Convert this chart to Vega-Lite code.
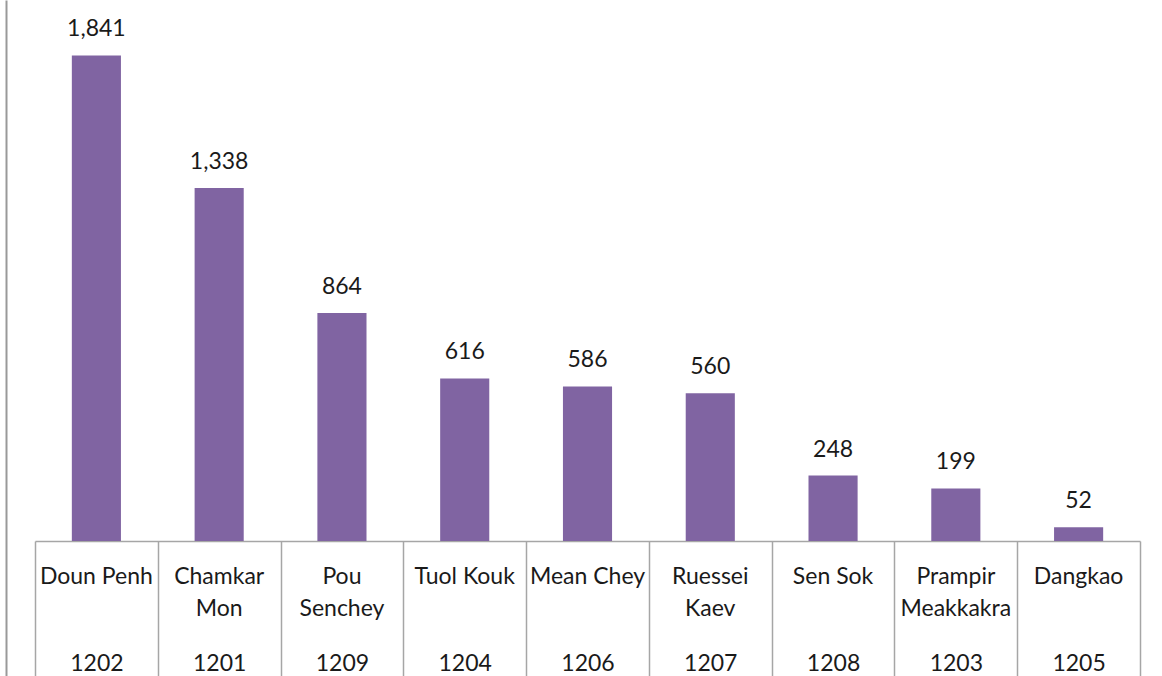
{
  "$schema": "https://vega.github.io/schema/vega-lite/v6.json",
  "autosize": "none",
  "width": 1105,
  "height": 676,
  "padding": {"left": 35, "top": 0, "right": 22, "bottom": 0},
  "background": "white",
  "config": {"view": {"stroke": null}, "font": "Lato"},
  "data": {
    "values": [
      {"code": "1202", "name": ["Doun Penh"], "value": 1841},
      {"code": "1201", "name": ["Chamkar", "Mon"], "value": 1338},
      {"code": "1209", "name": ["Pou", "Senchey"], "value": 864},
      {"code": "1204", "name": ["Tuol Kouk"], "value": 616},
      {"code": "1206", "name": ["Mean Chey"], "value": 586},
      {"code": "1207", "name": ["Ruessei", "Kaev"], "value": 560},
      {"code": "1208", "name": ["Sen Sok"], "value": 248},
      {"code": "1203", "name": ["Prampir", "Meakkakra"], "value": 199},
      {"code": "1205", "name": ["Dangkao"], "value": 52}
    ]
  },
  "encoding": {
    "x": {
      "field": "code",
      "type": "nominal",
      "sort": null,
      "scale": {"paddingInner": 0, "paddingOuter": 0},
      "axis": {
        "orient": "bottom",
        "offset": -135,
        "title": null,
        "domainColor": "#a6a6a6",
        "domainWidth": 1.5,
        "tickBand": "extent",
        "tickSize": 135,
        "tickColor": "#a6a6a6",
        "tickWidth": 1.5,
        "labelAngle": 0,
        "labelFont": "Lato",
        "labelFontSize": 23,
        "labelColor": "#1a1a1a",
        "labelPadding": -24,
        "grid": false
      }
    }
  },
  "layer": [
    {
      "mark": {"type": "bar", "color": "#8064A2", "width": {"band": 0.4}},
      "encoding": {
        "y": {
          "field": "value",
          "type": "quantitative",
          "title": null,
          "scale": {"domain": [-512, 2051], "nice": false},
          "axis": {
            "orient": "left",
            "offset": 29,
            "labels": false,
            "ticks": false,
            "grid": false,
            "domainColor": "#999999",
            "domainWidth": 2
          }
        }
      }
    },
    {
      "mark": {"type": "text", "dy": -19, "baseline": "alphabetic", "fontSize": 23, "color": "#1a1a1a"},
      "encoding": {
        "y": {"field": "value", "type": "quantitative", "title": null},
        "text": {"field": "value", "type": "quantitative", "format": ","}
      }
    },
    {
      "mark": {"type": "text", "baseline": "top", "dy": 25, "fontSize": 23, "lineHeight": 32, "color": "#1a1a1a"},
      "encoding": {
        "y": {"datum": 0, "title": null},
        "text": {"field": "name", "type": "nominal"}
      }
    }
  ]
}
